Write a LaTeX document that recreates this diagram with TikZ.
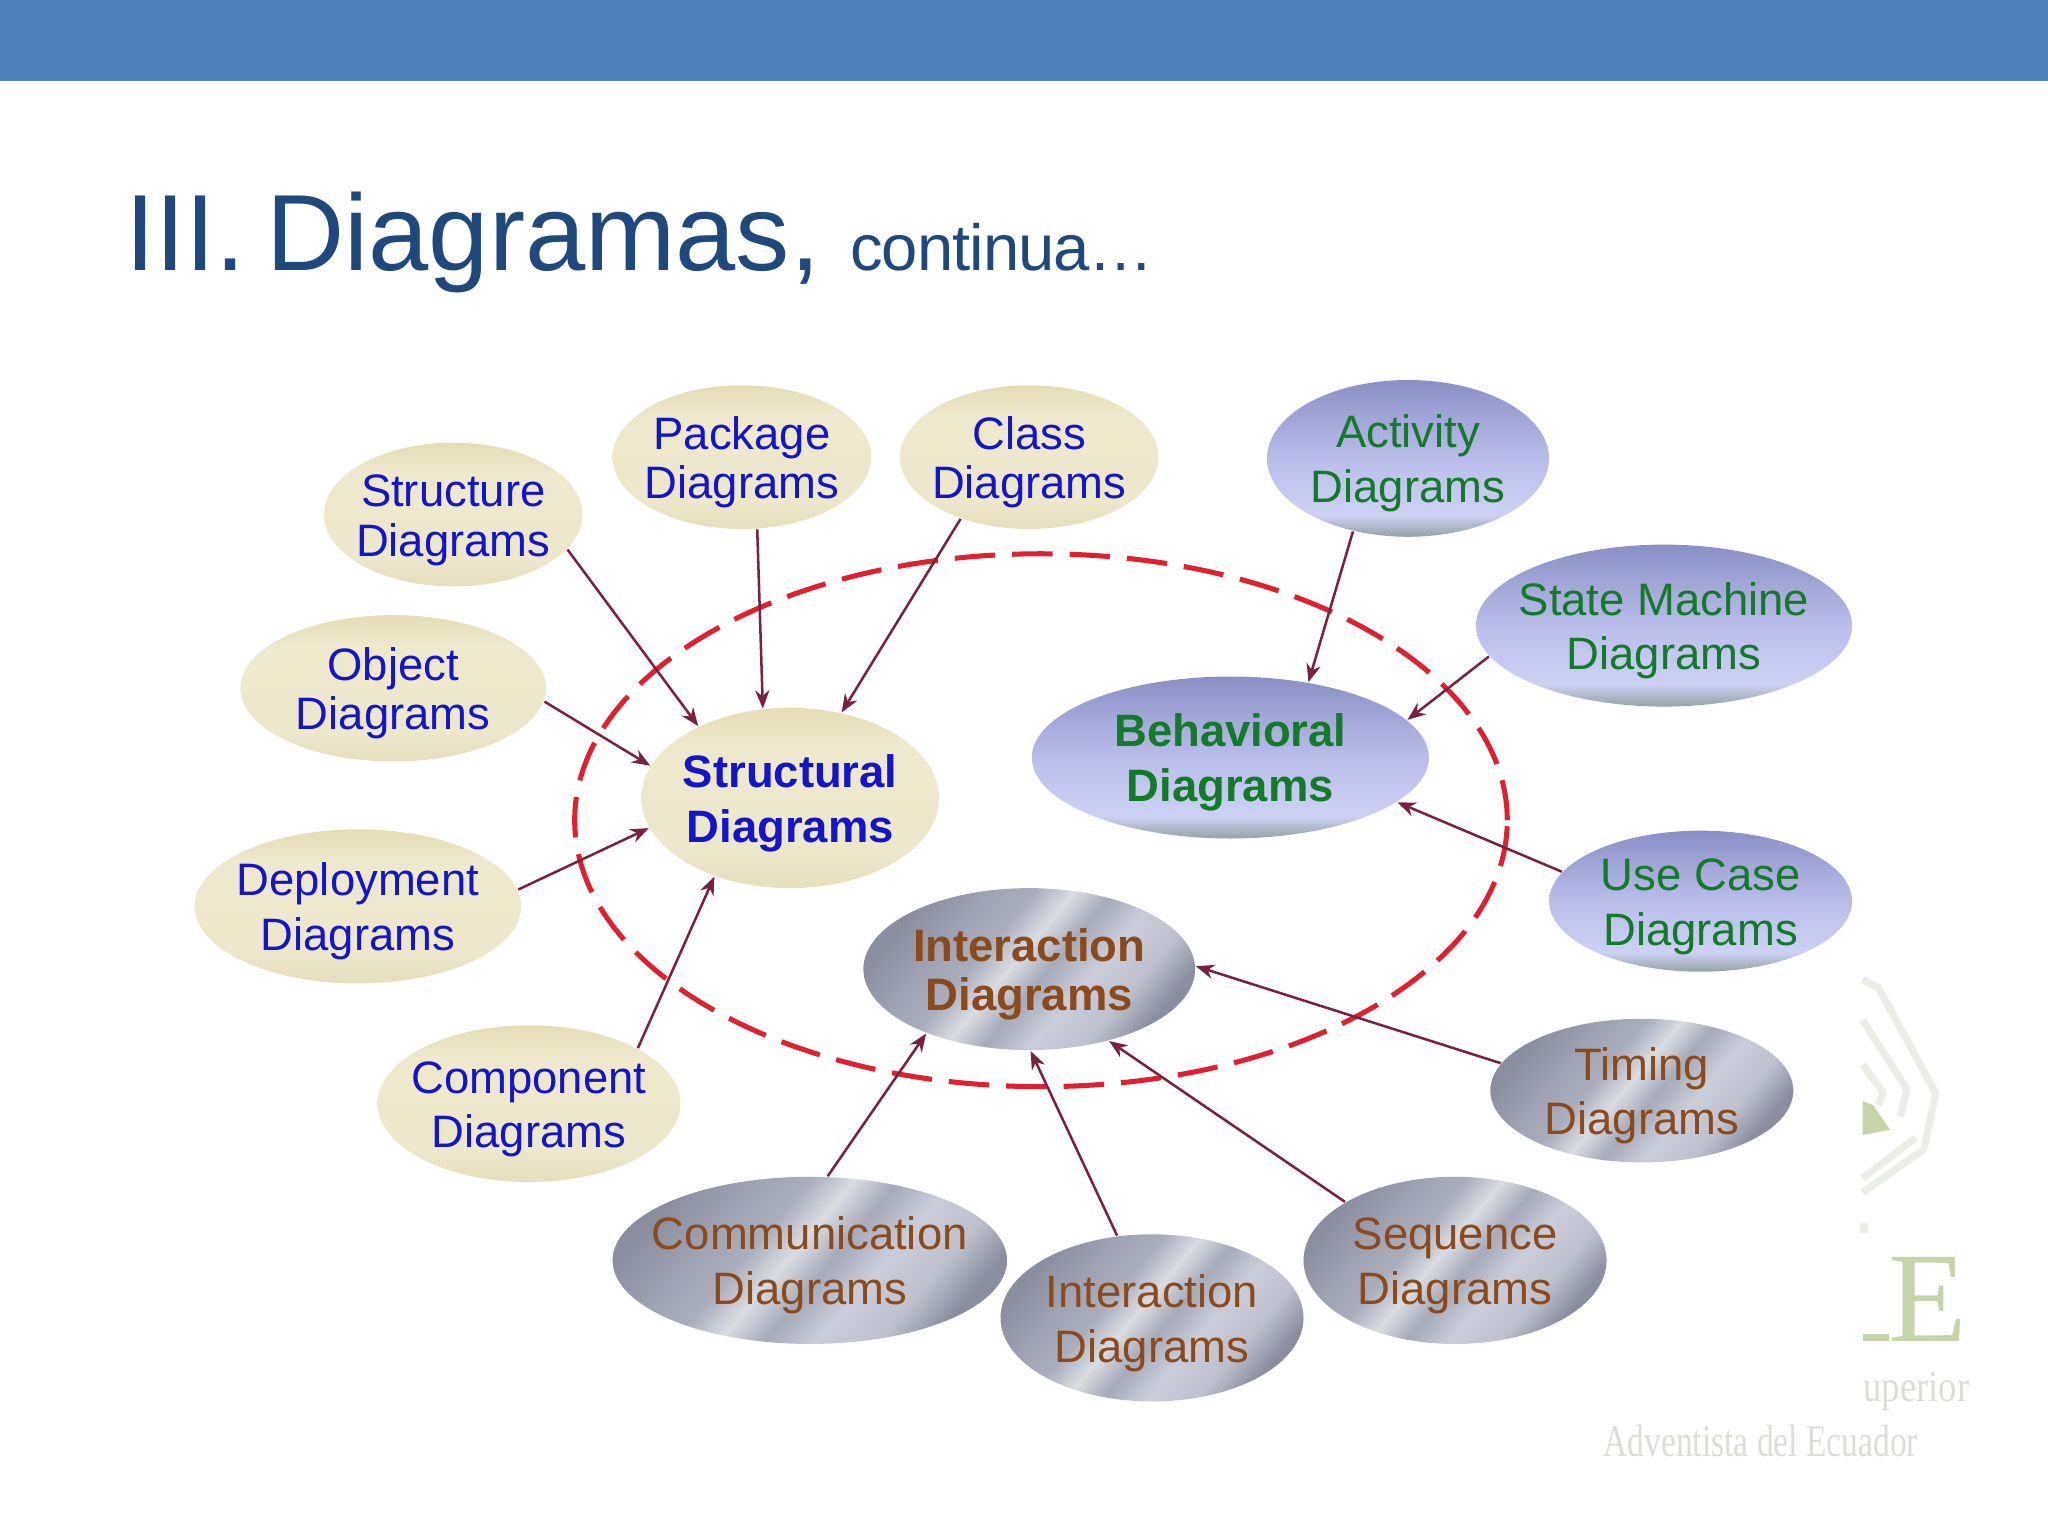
\documentclass[tikz,border=0pt]{standalone}
\usepackage{fontspec}
\usepackage{xcolor}
\usetikzlibrary{arrows.meta,shapes.geometric}
\setmainfont{Liberation Sans}
\newfontfamily\logofont{Liberation Serif}
\newcommand{\duo}[2]{\rule{0pt}{0.33cm}#1\\#2}
\definecolor{barblue}{HTML}{4F81BD}
\definecolor{titleblue}{HTML}{1F497D}
\definecolor{arrowred}{HTML}{7B2140}
\definecolor{ringred}{HTML}{E0202E}
\definecolor{textblue}{HTML}{1414C8}
\definecolor{textgreen}{HTML}{127A28}
\definecolor{textbrown}{HTML}{8A4A1C}
\definecolor{logogreen}{HTML}{C6D4AA}
\definecolor{logopale}{HTML}{EBEEE6}
\definecolor{logogray}{HTML}{DCDED6}
% shading stops
\definecolor{blueA}{HTML}{94A4A4}
\definecolor{blueB}{HTML}{CDD1F4}
\definecolor{blueC}{HTML}{BABDEA}
\definecolor{blueD}{HTML}{8A8FC6}
\definecolor{creamA}{HTML}{E6DFBC}
\definecolor{creamB}{HTML}{EDE7CC}
\definecolor{creamC}{HTML}{EEE8CC}
\definecolor{creamD}{HTML}{E4DDB4}
\definecolor{metalA}{HTML}{8A8E9F}
\definecolor{metalB}{HTML}{9EA2B2}
\definecolor{metalC}{HTML}{AAAEBC}
\definecolor{metalD}{HTML}{DADCE2}
\definecolor{metalE}{HTML}{A6AAB9}
\definecolor{metalF}{HTML}{CACDD9}
\definecolor{metalG}{HTML}{BEC1CD}
\pgfdeclareverticalshading{bluesheen}{100bp}{color(0bp)=(blueA);color(25bp)=(blueA);color(32bp)=(blueB);color(50bp)=(blueC);color(75bp)=(blueD);color(100bp)=(blueD)}
\pgfdeclareverticalshading{creamsheen}{100bp}{color(0bp)=(creamA);color(25bp)=(creamA);color(35bp)=(creamB);color(65bp)=(creamC);color(75bp)=(creamD);color(100bp)=(creamD)}
\pgfdeclarehorizontalshading{metalsheen}{100bp}{color(0bp)=(metalA);color(25bp)=(metalA);color(34bp)=(metalB);color(41bp)=(metalC);color(47bp)=(metalD);color(53bp)=(metalE);color(60bp)=(metalF);color(68bp)=(metalG);color(75bp)=(metalA);color(100bp)=(metalA)}
\tikzset{
  >={Stealth[length=1.4mm,width=1.1mm]},
  diagram/.style={ellipse, inner xsep=-4mm, inner ysep=-2mm, align=center, font=\fontsize{9.9}{11.9}\selectfont},
  tightlines/.style={font=\fontsize{9.9}{10.8}\selectfont},
  boldlines/.style={font=\fontsize{9.9}{11.9}\selectfont\bfseries},
  structure/.style={diagram, shading=creamsheen, text=textblue},
  behavior/.style={diagram, shading=bluesheen, text=textgreen},
  interaction/.style={diagram, shading=metalsheen, shading angle=-40, text=textbrown},
  link/.style={->, arrowred, line width=0.55pt},
  logoline/.style={logopale, line width=1.6pt, line join=round}
}
\begin{document}
\begin{tikzpicture}
    \useasboundingbox (0,0) rectangle (15.68,11.76);

    % Header
    \fill[barblue] (0,11.14) rectangle (15.68,11.76);
    \node[anchor=base west, inner sep=0pt, text=titleblue, font=\fontsize{23.6}{28}\selectfont] (title) at (0.95,9.69)
        {III.\hspace{-0.07cm} Diagramas, {\fontsize{14.2}{17}\selectfont\addfontfeatures{LetterSpace=-1.5}continua\ldots}};

    % Logo behind the diagram
    \draw[logoline] (14.26,4.26) -- (14.38,4.20) -- (14.82,3.39) -- (14.73,2.96) -- (14.26,2.63);
    \draw[logoline] (14.26,3.95) -- (14.60,3.42) -- (14.55,3.21);
    \draw[logoline] (14.26,3.61) -- (14.42,3.39) -- (14.38,3.30);
    \draw[logoline] (14.26,2.74) -- (14.67,3.05);
    \draw[logoline] (14.27,2.40) -- (14.27,2.32);
    \fill[logogreen] (14.26,3.33) -- (14.34,3.30) -- (14.47,3.11) -- (14.26,3.07) -- cycle;
    \node[logogreen, font=\fontsize{28}{30}\selectfont\logofont, anchor=base, inner sep=0pt] (logoe) at (14.76,1.49) {E};
    \fill[logogreen] (14.26,1.49) rectangle (14.46,1.55);
    \node[logogray, font=\fontsize{8}{10}\selectfont\logofont, yscale=1.2, anchor=base west, inner sep=0pt] (logoa) at (14.26,1.03) {uperior};
    \node[logogray, font=\fontsize{7.3}{9}\selectfont\logofont, yscale=1.35, anchor=base west, inner sep=0pt] (logob) at (12.27,0.61) {Adventista del Ecuador};

    % Dashed ring
    \draw[ringred, line width=1.1pt, dash pattern=on 0.31cm off 0.13cm] (7.97,5.48) ellipse (3.57 and 2.04);

    % Structural side
    \node[structure, tightlines, minimum width=1.98cm, minimum height=1.10cm] (structureD) at (3.47,7.82) {\duo{Structure}{Diagrams}};
    \node[structure, tightlines, minimum width=1.98cm, minimum height=1.10cm] (packageD) at (5.68,8.26) {\duo{Package}{Diagrams}};
    \node[structure, tightlines, minimum width=1.98cm, minimum height=1.10cm] (classD) at (7.88,8.26) {\duo{Class}{Diagrams}};
    \node[structure, tightlines, minimum width=2.34cm, minimum height=1.12cm] (objectD) at (3.01,6.49) {\duo{Object}{Diagrams}};
    \node[structure, minimum width=2.50cm, minimum height=1.18cm] (deploymentD) at (2.74,4.82) {\duo{Deployment}{Diagrams}};
    \node[structure, minimum width=2.32cm, minimum height=1.20cm] (componentD) at (4.05,3.31) {\duo{Component}{Diagrams}};
    \node[structure, boldlines, minimum width=2.28cm, minimum height=1.38cm] (structuralD) at (6.05,5.65) {\duo{Structural}{Diagrams}};

    % Behavioral side
    \node[behavior, minimum width=2.16cm, minimum height=1.20cm] (activityD) at (10.78,8.25) {\duo{Activity}{Diagrams}};
    \node[behavior, minimum width=2.88cm, minimum height=1.24cm] (stateD) at (12.74,6.97) {\duo{State Machine}{Diagrams}};
    \node[behavior, minimum width=2.32cm, minimum height=1.08cm] (usecaseD) at (13.02,4.86) {\duo{Use Case}{Diagrams}};
    \node[behavior, boldlines, minimum width=3.04cm, minimum height=1.24cm] (behavioralD) at (9.42,5.96) {\duo{Behavioral}{Diagrams}};

    % Interaction side
    \node[interaction, font=\fontsize{9.9}{10.8}\selectfont\bfseries, minimum width=2.54cm, minimum height=1.24cm] (interactionD) at (7.88,4.34) {\duo{Interaction}{Diagrams}};
    \node[interaction, minimum width=2.32cm, minimum height=1.10cm] (timingD) at (12.57,3.41) {\duo{Timing}{Diagrams}};
    \node[interaction, minimum width=3.02cm, minimum height=1.28cm] (communicationD) at (6.20,2.11) {\duo{Communication}{Diagrams}};
    \node[interaction, minimum width=2.32cm, minimum height=1.28cm] (interactionB) at (8.82,1.67) {\duo{Interaction}{Diagrams}};
    \node[interaction, minimum width=2.32cm, minimum height=1.28cm] (sequenceD) at (11.14,2.11) {\duo{Sequence}{Diagrams}};

    % Arrows into the three groups
    \draw[link] (structureD.-17) -- (structuralD.142);
    \draw[link] (packageD.-78) -- (structuralD.107);
    \draw[link] (classD.222) -- (structuralD.59);
    \draw[link] (objectD.-5) -- (structuralD.167);
    \draw[link] (deploymentD.6) -- (structuralD.192);
    \draw[link] (componentD.27) -- (structuralD.226);

    \draw[link] (activityD.233) -- (behavioralD.44);
    \draw[link] (stateD.190) -- (behavioralD.12);
    \draw[link] (usecaseD.168) -- (behavioralD.-15);

    \draw[link] (timingD.169) -- (interactionD.1);
    \draw[link] (communicationD.78) -- (interactionD.212);
    \draw[link] (interactionB.113) -- (interactionD.-89);
    \draw[link] (sequenceD.152) -- (interactionD.-42);
\end{tikzpicture}
\end{document}
